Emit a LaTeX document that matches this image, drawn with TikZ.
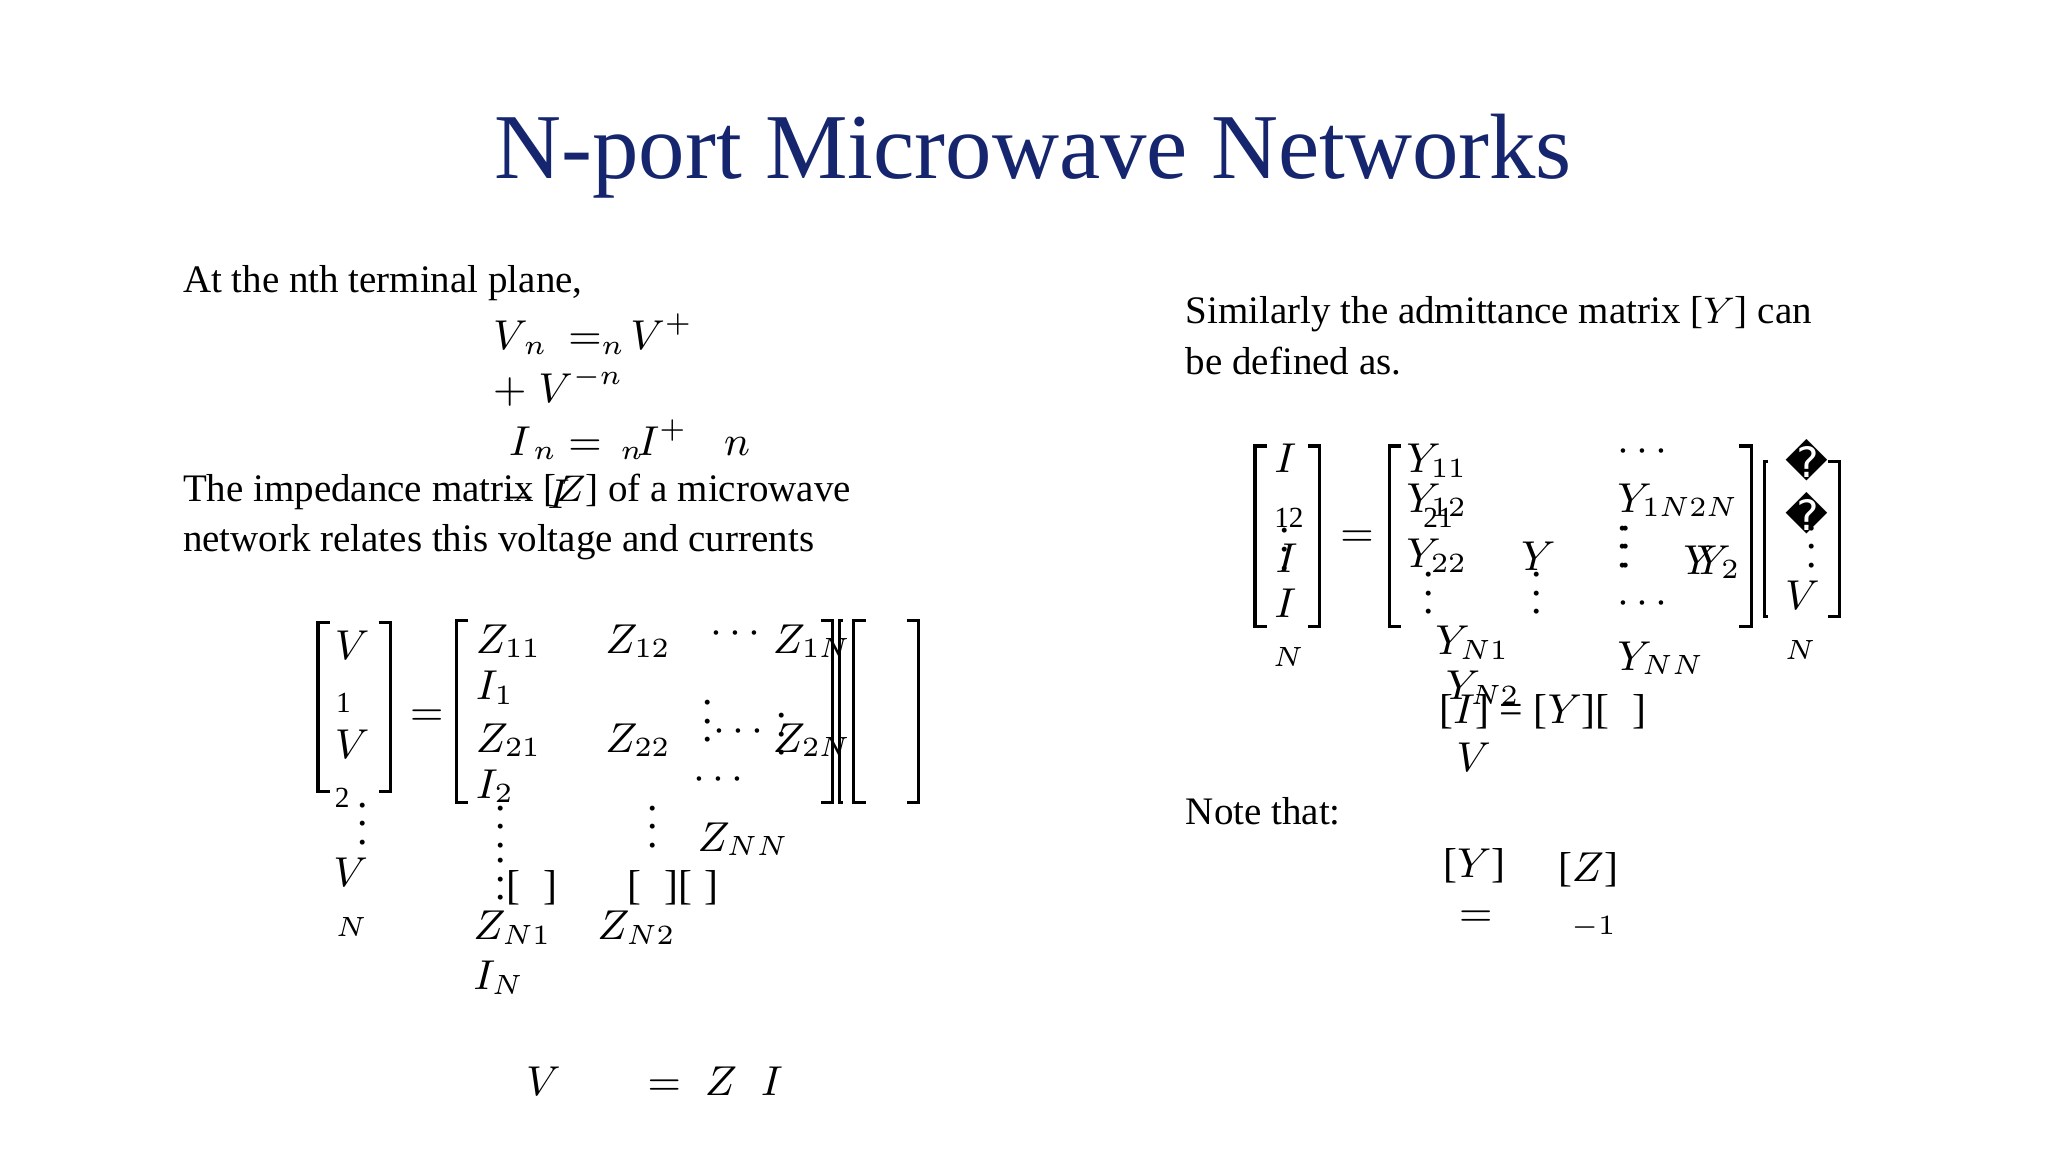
\documentclass[tikz,border=0pt]{standalone}
\usepackage{fontspec}
\setmainfont{Liberation Serif}
\newfontfamily\dvs{DejaVu Sans}
\definecolor{navy}{RGB}{22,38,110}
\begin{document}
\begin{tikzpicture}[x=0.01cm,y=-0.01cm,
 t/.style={anchor=base west,inner sep=0,font=\fontsize{8.4}{10}\selectfont},
 m/.style={anchor=base west,inner sep=0,font=\fontsize{9}{11}\selectfont},
 s/.style={anchor=base west,inner sep=0,font=\fontsize{6.3}{8}\selectfont},
 br/.style={line width=0.7pt}]
\useasboundingbox (0,0) rectangle (1552,873);
\node[anchor=base,inner sep=0,font=\fontsize{20}{24}\selectfont,text=navy] (title) at (783,135) {N-port Microwave Networks};
% left text
\node[t] (l1) at (138,222) {At the nth terminal plane,};
\node[m] (a1) at (373,265) {$V_{\,n}$};
\node[m] (a2) at (430,265) {$=_{n}\!V^{+}$};
\node[m] (a3) at (373,305) {$+\;V^{-n}$};
\node[m] (a4) at (385,345) {$I_{\,n}$};
\node[m] (a5) at (430,345) {$=\,_{n}\!I^{+}$};
\node[m] (a6) at (548,345) {$n$};
\node[m] (a7) at (380,385) {$-\;I$};
\node[t] (l2) at (138,380) {The impedance matrix [$Z$] of a microwave};
\node[t] (l3) at (138,418) {network relates this voltage and currents};
% left vector
\draw[br] (250,472) -- (241,472) -- (241,600) -- (250,600);
\draw[br] (287,472) -- (296,472) -- (296,600) -- (287,600);
\node[m] (v1) at (253,500) {$V$};
\node[s] (v1s) at (254,540) {1};
\node[m] (v2) at (253,575) {$V$};
\node[s] (v2s) at (253,612) {2};
\node[m] (vd) at (270,640) {$\vdots$};
\node[m] (vn) at (252,672) {$V$};
\node[s] (vns) at (254,710) {$N$};
\node[m] (eq1) at (310,550) {$=$};
% big matrix
\draw[br] (355,470) -- (346,470) -- (346,608) -- (355,608);
\draw[br] (622,470) -- (631,470) -- (631,608) -- (622,608);
\draw[br] (639,470) -- (636,470) -- (636,608) -- (639,608);
\draw[br] (656,470) -- (647,470) -- (647,608) -- (656,608);
\draw[br] (687,470) -- (696,470) -- (696,608) -- (687,608);
\node[m] (z11) at (360,495) {$Z_{11}$};
\node[m] (z12) at (458,495) {$Z_{12}$};
\node[m] (zc1) at (538,488) {$\cdots$};
\node[m] (z1n) at (585,495) {$Z_{1N}$};
\node[m] (i1) at (360,530) {$I_{1}$};
\node[m] (z21) at (360,570) {$Z_{21}$};
\node[m] (z22) at (458,570) {$Z_{22}$};
\node[m] (zc2) at (532,562) {$\vdots\!\cdots$};
\node[m] (z2n) at (585,570) {$Z_{2N}$};
\node[m] (zd2) at (588,572) {$\vdots$};
\node[m] (i2) at (360,605) {$I_{2}$};
\node[m] (zc3) at (525,598) {$\cdots$};
\node[m] (zd3) at (375,642) {$\vdots$};
\node[m] (zd4) at (490,642) {$\vdots$};
\node[m] (znn) at (528,645) {$Z_{NN}$};
\node[m] (zd5) at (375,682) {$\vdots$[\;\;]};
\node[m] (zb) at (475,682) {[\;\;][\;]};
\node[m] (zn1) at (358,712) {$Z_{N1}$};
\node[m] (zn2) at (452,712) {$Z_{N2}$};
\node[m] (in) at (358,750) {$I_{N}$};
\node[m] (bv) at (398,830) {$V$};
\node[m] (bz) at (490,830) {$=\;Z\;\;I$};
% right text
\node[t] (r1) at (898,245) {Similarly the admittance matrix [$Y$] can};
\node[t] (r2) at (898,284) {be defined as.};
\draw[br] (960,338) -- (951,338) -- (951,475) -- (960,475);
\draw[br] (991,338) -- (1000,338) -- (1000,475) -- (991,475);
\node[m] (yi1) at (965,358) {$I$};
\node[s] (y12) at (965,400) {12};
\node[m] (yi2) at (966,434) {$I$};
\node[m] (yd) at (969,432) {$\vdots$};
\node[m] (yin) at (965,468) {$I$};
\node[s] (yns) at (964,505) {$N$};
\node[m] (eq2) at (1015,414) {$=$};
\draw[br] (1062,338) -- (1053,338) -- (1053,475) -- (1062,475);
\draw[br] (1318,338) -- (1327,338) -- (1327,475) -- (1318,475);
\draw[br] (1340,350) -- (1337,350) -- (1337,467) -- (1340,467);
\draw[br] (1385,350) -- (1394,350) -- (1394,467) -- (1385,467);
\node[m] (y11) at (1065,358) {$Y_{11}$};
\node[m] (yc1) at (1225,350) {$\cdots$};
\node[m] (y21) at (1065,388) {$Y_{12}$};
\node[s] (y21b) at (1078,400) {21};
\node[m] (y1n) at (1225,388) {$Y_{1N2N}$};
\node[m] (y22) at (1065,430) {$Y_{22}$};
\node[m] (yy) at (1152,432) {$Y$};
\node[m] (yd1) at (1225,430) {$\vdots\!\vdots$};
\node[m] (yy2) at (1275,435) {$Y\!\!\!Y_{2}$};
\node[m] (yd2) at (1078,465) {$\vdots$};
\node[m] (yd3) at (1160,465) {$\vdots$};
\node[m] (yc2) at (1225,465) {$\cdots$};
\node[m] (yn1) at (1087,496) {$Y_{N1}$};
\node[m] (ynn) at (1225,508) {$Y_{NN}$};
\node[m] (yn2) at (1095,530) {$Y_{N2}$};
\node[anchor=base west,inner sep=0,font=\dvs\fontsize{9}{10}\selectfont] (q1) at (1352,362) {\char"FFFD};
\node[anchor=base west,inner sep=0,font=\dvs\fontsize{9}{10}\selectfont] (q2) at (1352,402) {\char"FFFD};
\node[m] (vd2) at (1368,430) {$\vdots$};
\node[m] (vv) at (1352,462) {$V$};
\node[s] (vvn) at (1352,500) {$N$};
\node[m] (ieq) at (1090,548) {[$I$] = [$Y$][\;\;]};
\node[m] (iv) at (1103,585) {$V$};
\node[t] (note) at (898,625) {Note that:};
\node[m] (ny) at (1093,665) {[$Y$]};
\node[m] (neq) at (1105,702) {$=$};
\node[m] (nz) at (1180,668) {[$Z$]};
\node[s] (nm1) at (1190,708) {$-1$};
\end{tikzpicture}
\end{document}
